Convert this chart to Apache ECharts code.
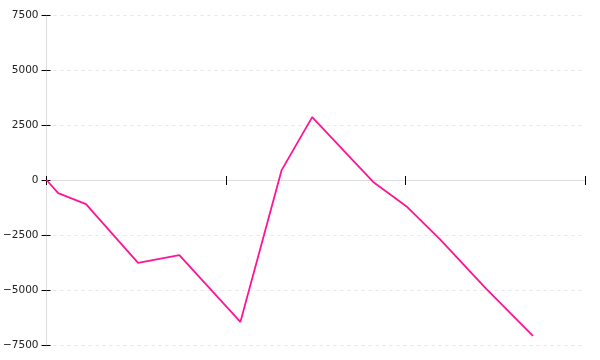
<!DOCTYPE html>
<html>
<head>
<meta charset="utf-8">
<script src="https://cdn.jsdelivr.net/npm/echarts@6/dist/echarts.min.js"></script>
<style>html,body{margin:0;padding:0;background:#fff}#c{width:600px;height:360px}</style>
</head>
<body>
<div id="c"></div>
<script>
var xValues = [0, 0.65, 2.2, 5.1, 7.4, 10.8, 13.1, 14.8, 18.2, 20.1, 21.9, 24.5, 27.1];
var yValues = [0, -600, -1100, -3770, -3410, -6450, 450, 2860, -90, -1230, -2680, -4950, -7090];
var yTicks = { min: -7500, max: 7500, interval: 2500 };
var xTicks = { min: 0, max: 30, interval: 10 };

var data = xValues.map(function (x, i) { return [x, yValues[i]]; });
var font = 'DejaVu Sans';
var chart = echarts.init(document.getElementById('c'), null, { renderer: 'canvas' });
chart.setOption({
  animation: false,
  grid: { left: 45, right: 15, top: 15, bottom: 15 },
  xAxis: [{
    type: 'value', min: xTicks.min, max: xTicks.max, interval: xTicks.interval,
    axisLine: { show: true, onZero: true, lineStyle: { color: '#dddddd', width: 1 } },
    axisTick: { show: true, inside: false, length: 5, lineStyle: { color: '#000', width: 1 } },
    axisLabel: { show: false },
    splitLine: { show: false }
  }, {
    type: 'value', min: xTicks.min, max: xTicks.max, interval: xTicks.interval,
    position: 'bottom',
    axisLine: { show: false, onZero: true },
    axisTick: { show: true, inside: true, length: 4, lineStyle: { color: '#000', width: 1 } },
    axisLabel: { show: false },
    splitLine: { show: false }
  }],
  yAxis: [{
    type: 'value', min: yTicks.min, max: yTicks.max, interval: yTicks.interval,
    axisLine: { show: true, lineStyle: { color: '#dddddd', width: 1 } },
    axisTick: { show: true, inside: false, length: 5, lineStyle: { color: '#000', width: 1 } },
    axisLabel: {
      show: true, margin: 8, color: '#222', fontFamily: font, fontSize: 10.5,
      formatter: function (v) { return String(v).replace('-', '\u2212'); }
    },
    splitLine: { show: true, lineStyle: { color: '#e6e6e6', type: [3, 4], width: 1 } }
  }, {
    type: 'value', min: yTicks.min, max: yTicks.max, interval: yTicks.interval,
    position: 'left',
    axisLine: { show: false },
    axisTick: { show: true, inside: true, length: 4, lineStyle: { color: '#000', width: 1 } },
    axisLabel: { show: false },
    splitLine: { show: false }
  }],
  series: [{
    type: 'line', xAxisIndex: 0, yAxisIndex: 0, data: data,
    showSymbol: false, symbol: 'none',
    lineStyle: { color: '#ff1493', width: 1.8 }
  }]
});
</script>
</body>
</html>
